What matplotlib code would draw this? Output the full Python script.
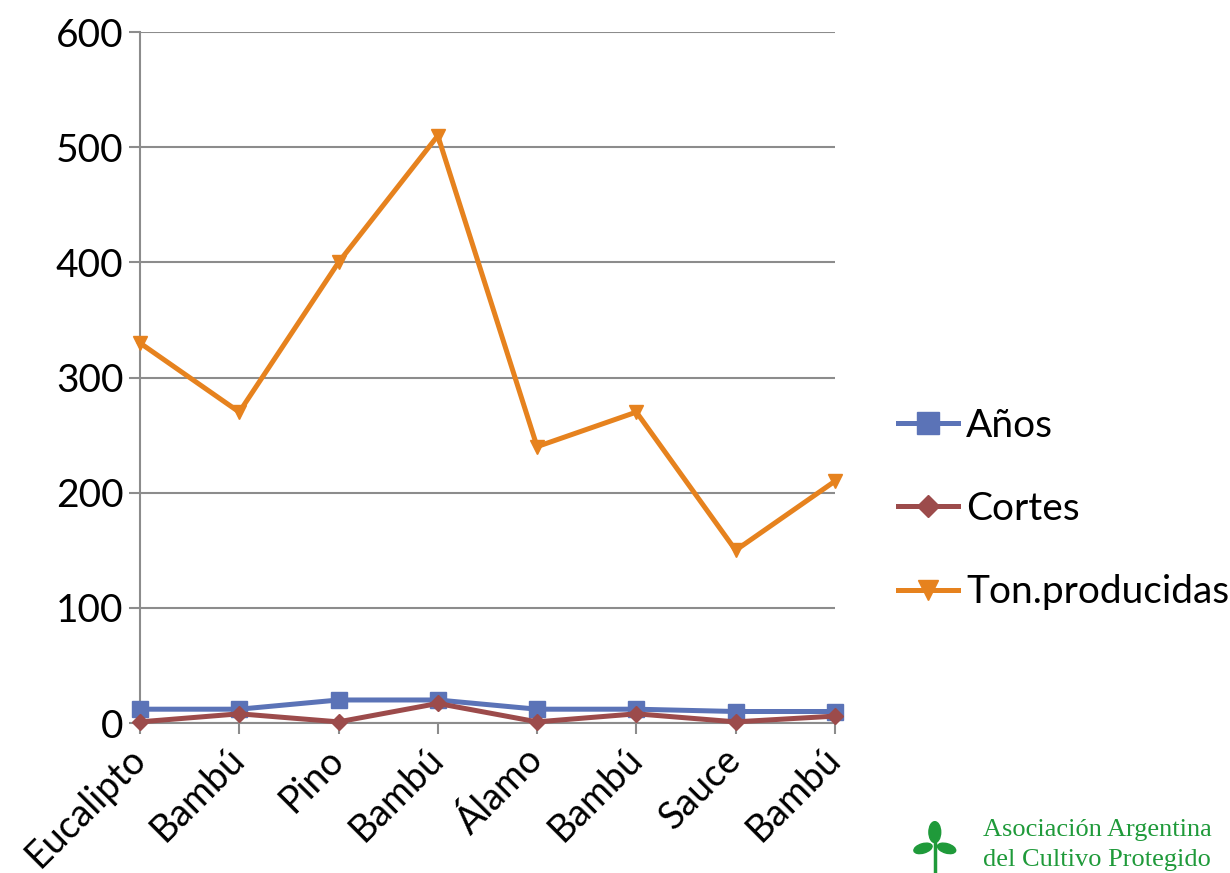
import matplotlib.pyplot as plt
from matplotlib.patches import Ellipse

# categorías y series
especies = ['Eucalipto', 'Bambú', 'Pino', 'Bambú', 'Álamo', 'Bambú', 'Sauce', 'Bambú']
anios = [12, 12, 20, 20, 12, 12, 10, 10]
cortes = [1, 8, 1, 17, 1, 8, 1, 6]
toneladas = [330, 270, 400, 510, 240, 270, 150, 210]

plt.rcParams['font.family'] = ['Lato', 'DejaVu Sans']

fig = plt.figure(figsize=(12.3, 8.73), dpi=100)
ax = fig.add_axes([0.1138, 0.1718, 0.5650, 0.7915])

x = list(range(len(especies)))
ax.plot(x, anios, color='#5b73b7', lw=3.6, marker='s', ms=11, label='Años', clip_on=False, zorder=3)
ax.plot(x, cortes, color='#9c4b4b', lw=3.6, marker='D', ms=8, label='Cortes', clip_on=False, zorder=3)
ax.plot(x, toneladas, color='#e6821e', lw=3.6, marker='v', ms=10, label='Ton.producidas', clip_on=False, zorder=3)

ax.set_xlim(0, len(especies) - 1)
ax.set_ylim(0, 600)
ax.set_yticks(range(0, 601, 100))
ax.set_xticks(x)
ax.set_xticklabels(especies, rotation=45, ha='right', va='center', rotation_mode='anchor', fontsize=27)
ax.tick_params(axis='y', labelsize=28, length=8, color='#8c8c8c', width=1.5, pad=4)
ax.tick_params(axis='x', length=8, color='#8c8c8c', width=1.5, pad=14)
ax.grid(axis='y', color='#8c8c8c', lw=1.5)
ax.set_axisbelow(True)
for s in ['top', 'right']:
    ax.spines[s].set_visible(False)
for s in ['left', 'bottom']:
    ax.spines[s].set_color('#8c8c8c')
    ax.spines[s].set_linewidth(1.5)

leg = fig.legend(loc='center left', bbox_to_anchor=(0.730, 0.417), frameon=False,
                 fontsize=28, handlelength=1.55, handletextpad=0.2, labelspacing=1.22,
                 borderaxespad=0, borderpad=0, markerscale=1.4)

# logo
fig.text(0.799, 0.042, 'Asociación Argentina', color='#1f9a3a', fontsize=19, family='Liberation Serif')
fig.text(0.799, 0.008, 'del Cultivo Protegido', color='#1f9a3a', fontsize=19, family='Liberation Serif')
logo = fig.add_axes([0.740, 0.0, 0.040, 0.06])
logo.set_xlim(0, 1)
logo.set_ylim(0, 1)
logo.axis('off')
logo.plot([0.5, 0.5], [0, 0.6], color='#1f9a3a', lw=2.5)
logo.add_patch(Ellipse((0.5, 0.78), 0.24, 0.4, color='#1f9a3a'))
logo.add_patch(Ellipse((0.26, 0.47), 0.38, 0.18, angle=15, color='#1f9a3a'))
logo.add_patch(Ellipse((0.74, 0.47), 0.38, 0.18, angle=-15, color='#1f9a3a'))

fig.savefig('out.png', dpi=100)
